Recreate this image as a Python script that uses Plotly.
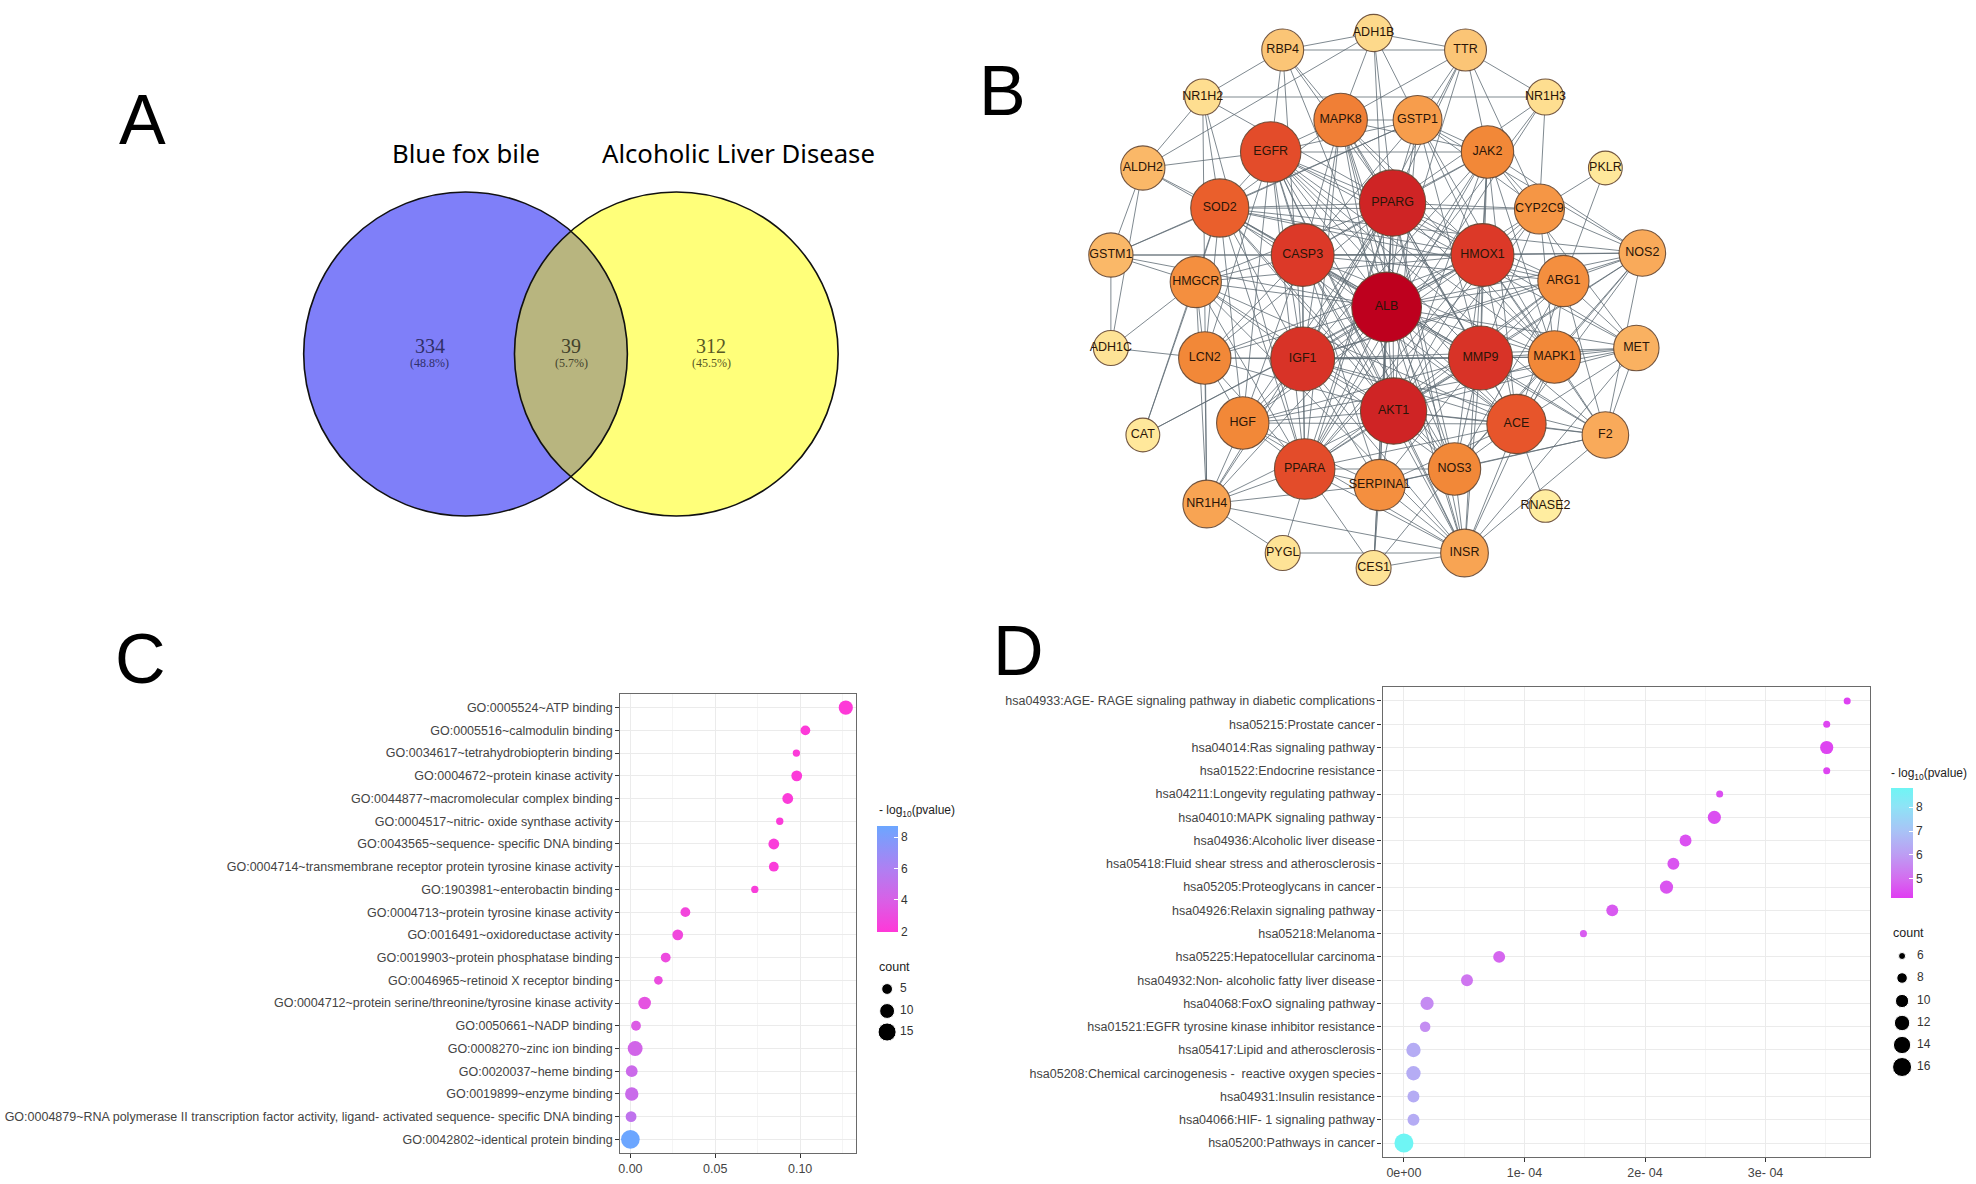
import numpy as np
import plotly.graph_objects as go

W, H = 1976, 1184

# ---------------- Panel A: Venn data ----------------
venn_sets = ["Blue fox bile", "Alcoholic Liver Disease"]
venn_counts = [334, 39, 312]
venn_pcts = ["(48.8%)", "(5.7%)", "(45.5%)"]

# ---------------- Panel B: PPI network data ----------------
node_names = ["ADH1B", "RBP4", "TTR", "NR1H2", "NR1H3", "MAPK8", "GSTP1", "EGFR", "JAK2", "ALDH2",
              "PKLR", "PPARG", "SOD2", "CYP2C9", "GSTM1", "CASP3", "HMOX1", "NOS2", "HMGCR", "ARG1",
              "ALB", "ADH1C", "LCN2", "IGF1", "MMP9", "MAPK1", "MET", "CAT", "HGF", "AKT1",
              "ACE", "F2", "PPARA", "SERPINA1", "NOS3", "NR1H4", "RNASE2", "PYGL", "CES1", "INSR"]
node_x = [1373, 1282, 1465, 1202, 1545, 1340, 1417, 1270, 1487, 1142,
          1605, 1392, 1219, 1539, 1110, 1302, 1482, 1642, 1195, 1563,
          1386, 1110, 1204, 1302, 1480, 1554, 1636, 1142, 1242, 1393,
          1516, 1605, 1304, 1379, 1454, 1206, 1545, 1282, 1373, 1464]
node_y = [33, 50, 50, 97, 97, 120, 120, 152, 152, 168,
          168, 203, 208, 209, 255, 255, 255, 253, 282, 281,
          307, 348, 358, 359, 358, 357, 348, 435, 423, 411,
          424, 435, 469, 485, 469, 504, 506, 553, 568, 553]
node_degree = [8, 12, 12, 7, 7, 22, 18, 28, 21, 14,
               5, 33, 26, 19, 14, 30, 30, 16, 20, 20,
               36, 6, 21, 31, 31, 21, 15, 5, 21, 33,
               27, 16, 28, 20, 21, 17, 4, 6, 6, 17]
edges_adj = {
    "ALB": "AKT1 PPARG IGF1 MMP9 CASP3 HMOX1 EGFR PPARA ACE SOD2 MAPK8 GSTP1 JAK2 CYP2C9 ARG1 MAPK1 NOS3 SERPINA1 LCN2 HGF HMGCR NR1H4 INSR F2 NOS2 MET TTR RBP4 CES1 GSTM1 ALDH2 CAT ADH1B NR1H3",
    "AKT1": "PPARG IGF1 MMP9 CASP3 HMOX1 EGFR PPARA ACE SOD2 MAPK8 GSTP1 JAK2 MAPK1 NOS3 SERPINA1 HGF LCN2 INSR MET NOS2 F2 ARG1 HMGCR CYP2C9 NR1H4",
    "PPARG": "IGF1 MMP9 CASP3 HMOX1 EGFR PPARA ACE SOD2 MAPK8 GSTP1 JAK2 CYP2C9 ARG1 MAPK1 NOS3 LCN2 HMGCR NR1H4 NR1H3 NR1H2 RBP4 TTR INSR SERPINA1 HGF ADH1B CES1 PYGL",
    "IGF1": "MMP9 CASP3 HMOX1 EGFR PPARA ACE SOD2 MAPK8 JAK2 MAPK1 NOS3 SERPINA1 HGF LCN2 INSR MET F2 ARG1 HMGCR NR1H4 NOS2 RBP4 TTR",
    "MMP9": "CASP3 HMOX1 EGFR PPARA ACE SOD2 MAPK8 GSTP1 JAK2 MAPK1 NOS3 SERPINA1 HGF LCN2 MET NOS2 F2 ARG1 INSR CYP2C9",
    "CASP3": "HMOX1 EGFR PPARA ACE SOD2 MAPK8 GSTP1 JAK2 MAPK1 NOS3 HGF LCN2 HMGCR NOS2 ARG1 GSTM1 INSR",
    "HMOX1": "EGFR PPARA ACE SOD2 MAPK8 GSTP1 JAK2 CYP2C9 ARG1 MAPK1 NOS3 NOS2 MET F2 HGF HMGCR GSTM1 CAT LCN2",
    "EGFR": "PPARA ACE SOD2 MAPK8 GSTP1 JAK2 MAPK1 NOS3 HGF MET INSR F2 LCN2 SERPINA1 ALDH2 RBP4",
    "PPARA": "ACE SOD2 MAPK8 JAK2 CYP2C9 NOS3 SERPINA1 HMGCR NR1H4 NR1H3 NR1H2 INSR CES1 HGF LCN2 ARG1",
    "ACE": "SOD2 NOS3 NOS2 MAPK1 ARG1 F2 SERPINA1 INSR HGF JAK2 RNASE2 MET HMGCR",
    "SOD2": "MAPK8 GSTP1 NOS3 NOS2 ARG1 HMGCR LCN2 HGF GSTM1 ALDH2 CAT NR1H2 CYP2C9",
    "MAPK8": "GSTP1 JAK2 MAPK1 NOS3 ADH1B RBP4 TTR INSR",
    "GSTP1": "JAK2 CYP2C9 GSTM1 ADH1B TTR MAPK1 NOS2",
    "JAK2": "MAPK1 NOS2 CYP2C9 TTR MET INSR",
    "CYP2C9": "PKLR NOS2 ARG1 MAPK1 TTR NR1H3",
    "ARG1": "NOS2 NOS3 MAPK1 MET F2 PKLR",
    "MAPK1": "MET F2 NOS2 NOS3 INSR",
    "NOS3": "INSR NOS2 F2 SERPINA1 CES1",
    "SERPINA1": "INSR CES1 F2 NR1H4",
    "LCN2": "HGF NR1H4 HMGCR ADH1C",
    "HGF": "MET NR1H4 SERPINA1 INSR",
    "HMGCR": "NR1H4 GSTM1 ADH1C CAT INSR",
    "NR1H4": "INSR NR1H2 PYGL",
    "INSR": "CES1 PYGL F2 MET",
    "TTR": "RBP4 ADH1B NR1H3",
    "RBP4": "ADH1B NR1H2",
    "ADH1B": "ALDH2 GSTP1",
    "ALDH2": "GSTM1 ADH1C NR1H2",
    "GSTM1": "ADH1C",
    "NR1H2": "NR1H3",
    "F2": "MET NOS2",
}

# ---------------- Panel C: GO enrichment data ----------------
go_terms = ["GO:0005524~ATP binding", "GO:0005516~calmodulin binding",
            "GO:0034617~tetrahydrobiopterin binding", "GO:0004672~protein kinase activity",
            "GO:0044877~macromolecular complex binding", "GO:0004517~nitric- oxide synthase activity",
            "GO:0043565~sequence- specific DNA binding",
            "GO:0004714~transmembrane receptor protein tyrosine kinase activity",
            "GO:1903981~enterobactin binding", "GO:0004713~protein tyrosine kinase activity",
            "GO:0016491~oxidoreductase activity", "GO:0019903~protein phosphatase binding",
            "GO:0046965~retinoid X receptor binding",
            "GO:0004712~protein serine/threonine/tyrosine kinase activity",
            "GO:0050661~NADP binding", "GO:0008270~zinc ion binding", "GO:0020037~heme binding",
            "GO:0019899~enzyme binding",
            "GO:0004879~RNA polymerase II transcription factor activity, ligand- activated sequence- specific DNA binding",
            "GO:0042802~identical protein binding"]
go_x = [0.1269, 0.1031, 0.0978, 0.0980, 0.0927, 0.0880, 0.0845, 0.0845, 0.0733, 0.0324,
        0.0279, 0.0208, 0.0165, 0.0084, 0.0033, 0.0028, 0.0008, 0.0008, 0.0004, 0.0000]
go_logp = [2.0, 2.05, 2.1, 2.1, 2.15, 2.15, 2.2, 2.2, 2.3, 2.6,
           2.7, 2.9, 3.0, 3.3, 3.8, 4.3, 4.6, 4.7, 5.2, 8.7]
go_count = [9, 4, 2, 5, 5, 2, 5, 4, 2, 4, 5, 4, 3, 7, 4, 10, 6, 8, 5, 16]
go_xticks = [0.0, 0.05, 0.10]
go_xticktext = ["0.00", "0.05", "0.10"]
go_cbar_ticks = [2, 4, 6, 8]
go_size_breaks = [5, 10, 15]

# ---------------- Panel D: KEGG enrichment data ----------------
kegg_terms = ["hsa04933:AGE- RAGE signaling pathway in diabetic complications",
              "hsa05215:Prostate cancer", "hsa04014:Ras signaling pathway",
              "hsa01522:Endocrine resistance", "hsa04211:Longevity regulating pathway",
              "hsa04010:MAPK signaling pathway", "hsa04936:Alcoholic liver disease",
              "hsa05418:Fluid shear stress and atherosclerosis", "hsa05205:Proteoglycans in cancer",
              "hsa04926:Relaxin signaling pathway", "hsa05218:Melanoma",
              "hsa05225:Hepatocellular carcinoma", "hsa04932:Non- alcoholic fatty liver disease",
              "hsa04068:FoxO signaling pathway", "hsa01521:EGFR tyrosine kinase inhibitor resistance",
              "hsa05417:Lipid and atherosclerosis",
              "hsa05208:Chemical carcinogenesis -  reactive oxygen species",
              "hsa04931:Insulin resistance", "hsa04066:HIF- 1 signaling pathway",
              "hsa05200:Pathways in cancer"]
kegg_x = [3.677e-4, 3.507e-4, 3.507e-4, 3.507e-4, 2.619e-4, 2.575e-4, 2.336e-4, 2.235e-4,
          2.178e-4, 1.728e-4, 1.489e-4, 0.790e-4, 0.523e-4, 0.192e-4, 0.176e-4, 0.079e-4,
          0.079e-4, 0.079e-4, 0.079e-4, 0.0]
kegg_logp = [4.3, 4.35, 4.35, 4.35, 4.5, 4.5, 4.55, 4.6, 4.6, 4.7,
             4.75, 4.9, 5.2, 5.65, 5.7, 6.4, 6.4, 6.4, 6.4, 8.8]
kegg_count = [6, 6, 10, 6, 6, 10, 9, 9, 10, 9, 6, 9, 9, 10, 8, 11, 11, 9, 9, 16]
kegg_xticks = [0.0, 1e-4, 2e-4, 3e-4]
kegg_xticktext = ["0e+00", "1e- 04", "2e- 04", "3e- 04"]
kegg_cbar_ticks = [5, 6, 7, 8]
kegg_size_breaks = [6, 8, 10, 12, 14, 16]

# ---------------- styles ----------------
SANS = "Liberation Sans, Arial, sans-serif"
SERIF = "Liberation Serif, DejaVu Serif, serif"
TXT = "#444444"
go_cs = [[0, "#FF38D8"], [0.3, "#D860E6"], [0.6, "#AE80F2"], [1, "#6CA6FF"]]
kegg_cs = [[0, "#E03CF2"], [0.17, "#D46BEF"], [0.39, "#BD9CF3"], [0.61, "#A8C3F6"],
           [0.83, "#8EE3F6"], [1, "#6FF5F4"]]
node_cs = [[0, "#FFEDA0"], [0.25, "#FBC576"], [0.41, "#F8A352"], [0.53, "#F28838"],
           [0.69, "#EA5E2C"], [0.81, "#DC3A28"], [0.9, "#D02626"], [1, "#BE001E"]]


def go_size(c):
    return float(np.sqrt(12 + 21 * c))


def kegg_size(c):
    return float(np.sqrt(max(-138 + 31.2 * c, 16)))


fig = go.Figure()

# ---------------- Panel B: network on the pixel canvas axis ----------------
idx = {n: i for i, n in enumerate(node_names)}
seen = set()
ex, ey = [], []
for a, targets in edges_adj.items():
    for b in targets.split():
        key = tuple(sorted((a, b)))
        if key in seen or a == b:
            continue
        seen.add(key)
        ex += [node_x[idx[a]], node_x[idx[b]], None]
        ey += [node_y[idx[a]], node_y[idx[b]], None]
fig.add_trace(go.Scatter(x=ex, y=ey, mode="lines", xaxis="x", yaxis="y",
                         line=dict(color="rgba(95,108,116,0.8)", width=1),
                         hoverinfo="skip", showlegend=False))
fig.add_trace(go.Scatter(
    x=node_x, y=node_y, mode="markers+text", text=node_names, textposition="middle center",
    xaxis="x", yaxis="y",
    textfont=dict(family=SANS, size=12.5, color="#2A1508"),
    marker=dict(size=[2 * (14 + 0.58 * d) for d in node_degree], color=node_degree,
                colorscale=node_cs, cmin=4, cmax=36, opacity=1,
                line=dict(color="rgba(100,70,50,0.9)", width=1.1)),
    showlegend=False, hoverinfo="text"))

# ---------------- Panel C ----------------
fig.add_trace(go.Scatter(
    x=go_x, y=go_terms, mode="markers", xaxis="x2", yaxis="y2",
    marker=dict(size=[go_size(c) for c in go_count], color=go_logp, colorscale=go_cs,
                cmin=1.96, cmax=8.7, line=dict(width=0), opacity=1,
                colorbar=dict(x=876 / W, xanchor="left", xpad=0, y=1 - 826 / H, yanchor="top",
                              ypad=0, len=106, lenmode="pixels", thickness=21,
                              thicknessmode="pixels", outlinewidth=0, tickvals=go_cbar_ticks,
                              ticks="inside", ticklen=4, tickcolor="white",
                              tickfont=dict(family=SANS, size=12, color="#333"))),
    showlegend=False))

# ---------------- Panel D ----------------
fig.add_trace(go.Scatter(
    x=kegg_x, y=kegg_terms, mode="markers", xaxis="x3", yaxis="y3",
    marker=dict(size=[kegg_size(c) for c in kegg_count], color=kegg_logp, colorscale=kegg_cs,
                cmin=4.2, cmax=8.8, line=dict(width=0), opacity=1,
                colorbar=dict(x=1891 / W, xanchor="left", xpad=0, y=1 - 788 / H, yanchor="top",
                              ypad=0, len=110, lenmode="pixels", thickness=22,
                              thicknessmode="pixels", outlinewidth=0, tickvals=kegg_cbar_ticks,
                              ticks="inside", ticklen=4, tickcolor="white",
                              tickfont=dict(family=SANS, size=12, color="#333"))),
    showlegend=False))

# size legends (drawn on canvas axis)
gleg_y = [989, 1011, 1032]
fig.add_trace(go.Scatter(x=[886] * len(go_size_breaks), y=gleg_y, mode="markers",
                         xaxis="x", yaxis="y",
                         marker=dict(size=[go_size(c) for c in go_size_breaks], color="black",
                                     opacity=1),
                         showlegend=False, hoverinfo="skip"))
fig.add_trace(go.Scatter(x=[899] * len(go_size_breaks), y=gleg_y, mode="text",
                         text=[str(c) for c in go_size_breaks], textposition="middle right",
                         xaxis="x", yaxis="y",
                         textfont=dict(family=SANS, size=12, color="#333"),
                         showlegend=False, hoverinfo="skip"))
kleg_y = [956, 978, 1001, 1023, 1045, 1067]
fig.add_trace(go.Scatter(x=[1902] * len(kegg_size_breaks), y=kleg_y, mode="markers",
                         xaxis="x", yaxis="y",
                         marker=dict(size=[kegg_size(c) for c in kegg_size_breaks], color="black",
                                     opacity=1),
                         showlegend=False, hoverinfo="skip"))
fig.add_trace(go.Scatter(x=[1917] * len(kegg_size_breaks), y=kleg_y, mode="text",
                         text=[str(c) for c in kegg_size_breaks], textposition="middle right",
                         xaxis="x", yaxis="y",
                         textfont=dict(family=SANS, size=12, color="#333"),
                         showlegend=False, hoverinfo="skip"))

# ---------------- Panel A: Venn shapes ----------------
R = 162
cyv = 354
cb, cyl = 464, 675
shapes = []
shapes.append(dict(type="circle", xref="x", yref="y", x0=cb - R, x1=cb + R, y0=cyv - R, y1=cyv + R,
                   fillcolor="#7F7FF9", line=dict(width=0), layer="above"))
shapes.append(dict(type="circle", xref="x", yref="y", x0=cyl - R, x1=cyl + R, y0=cyv - R, y1=cyv + R,
                   fillcolor="#FFFF7A", line=dict(width=0), layer="above"))
mid = (cb + cyl) / 2
t0 = np.arccos((mid - cb) / R)
th = np.linspace(t0, -t0, 80)
ph = np.linspace(np.pi + t0, np.pi - t0, 80)
px = list(cb + R * np.cos(th)) + list(cyl + R * np.cos(ph))
py = list(cyv - R * np.sin(th)) + list(cyv - R * np.sin(ph))
path = "M " + " L ".join(f"{a:.2f},{b:.2f}" for a, b in zip(px, py)) + " Z"
shapes.append(dict(type="path", xref="x", yref="y", path=path, fillcolor="#B8B57F",
                   line=dict(width=0), layer="above"))
for c in (cb, cyl):
    shapes.append(dict(type="circle", xref="x", yref="y", x0=c - R, x1=c + R, y0=cyv - R, y1=cyv + R,
                       line=dict(color="#111", width=1.6), layer="above"))

ann = []
letters = [("A", 141, 120), ("B", 1002, 91), ("C", 139, 659), ("D", 1018, 651)]
for t, x, y in letters:
    ann.append(dict(text=t, x=x, y=y, xref="x", yref="y", showarrow=False, xanchor="center",
                    yanchor="middle", font=dict(family=SANS, size=70, color="black")))
ann.append(dict(text=venn_sets[0], x=464, y=153, xref="x", yref="y", showarrow=False,
                font=dict(family="Noto Sans, sans-serif", size=25.7, color="black")))
ann.append(dict(text=venn_sets[1], x=737, y=153, xref="x", yref="y", showarrow=False,
                font=dict(family="Noto Sans, sans-serif", size=25.7, color="black")))
vx = [428, 570, 710]
vcol = ["#30306a", "#42422c", "#585824"]
for i in range(3):
    ann.append(dict(text=str(venn_counts[i]), x=vx[i], y=346, xref="x", yref="y", showarrow=False,
                    font=dict(family=SERIF, size=20, color=vcol[i])))
    ann.append(dict(text=venn_pcts[i], x=vx[i], y=363, xref="x", yref="y", showarrow=False,
                    font=dict(family=SERIF, size=12, color=vcol[i])))
# legend titles
ann.append(dict(text="- log<sub>10</sub>(pvalue)", x=876, y=811, xref="x", yref="y", showarrow=False,
                xanchor="left", font=dict(family=SANS, size=12, color="#222")))
ann.append(dict(text="count", x=876, y=967, xref="x", yref="y", showarrow=False,
                xanchor="left", font=dict(family=SANS, size=12.5, color="#222")))
ann.append(dict(text="- log<sub>10</sub>(pvalue)", x=1889, y=774, xref="x", yref="y", showarrow=False,
                xanchor="left", font=dict(family=SANS, size=12, color="#222")))
ann.append(dict(text="count", x=1891, y=933, xref="x", yref="y", showarrow=False,
                xanchor="left", font=dict(family=SANS, size=12.5, color="#222")))

axis_common = dict(showline=True, mirror=True, linecolor="#6a6a6a", linewidth=1.3,
                   ticks="outside", ticklen=4, tickcolor="#333", tickwidth=1,
                   gridcolor="#EBEBEB", gridwidth=1, zeroline=False,
                   tickfont=dict(family=SANS, size=12.5, color=TXT))

fig.update_layout(
    width=W, height=H, autosize=False,
    margin=dict(l=0, r=0, t=0, b=0, pad=0),
    paper_bgcolor="white", plot_bgcolor="rgba(0,0,0,0)",
    shapes=shapes, annotations=ann, showlegend=False,
    xaxis=dict(domain=[0, 1], range=[0, W], visible=False, fixedrange=True),
    yaxis=dict(domain=[0, 1], range=[H, 0], visible=False, fixedrange=True),
    xaxis2=dict(domain=[619 / W, 855 / W], anchor="y2", range=[-0.0059, 0.133],
                tickvals=go_xticks, ticktext=go_xticktext,
                minor=dict(tickvals=[0.025, 0.075, 0.125], showgrid=True, gridcolor="#F5F5F5",
                           ticks=""),
                **axis_common),
    yaxis2=dict(domain=[1 - 1153 / H, 1 - 694 / H], anchor="x2", type="category",
                categoryorder="array", categoryarray=go_terms,
                range=[len(go_terms) - 0.4, -0.6], **axis_common),
    xaxis3=dict(domain=[1382 / W, 1870 / W], anchor="y3", range=[-0.177e-4, 3.867e-4],
                tickvals=kegg_xticks, ticktext=kegg_xticktext,
                minor=dict(tickvals=[0.5e-4, 1.5e-4, 2.5e-4, 3.5e-4], showgrid=True,
                           gridcolor="#F5F5F5", ticks=""),
                **axis_common),
    yaxis3=dict(domain=[1 - 1157 / H, 1 - 687 / H], anchor="x3", type="category",
                categoryorder="array", categoryarray=kegg_terms,
                range=[len(kegg_terms) - 0.4, -0.6], **axis_common),
)

fig.write_html("out.html", config={"displayModeBar": False},
               post_script="document.body.style.margin='0';document.body.style.overflow='hidden';")
